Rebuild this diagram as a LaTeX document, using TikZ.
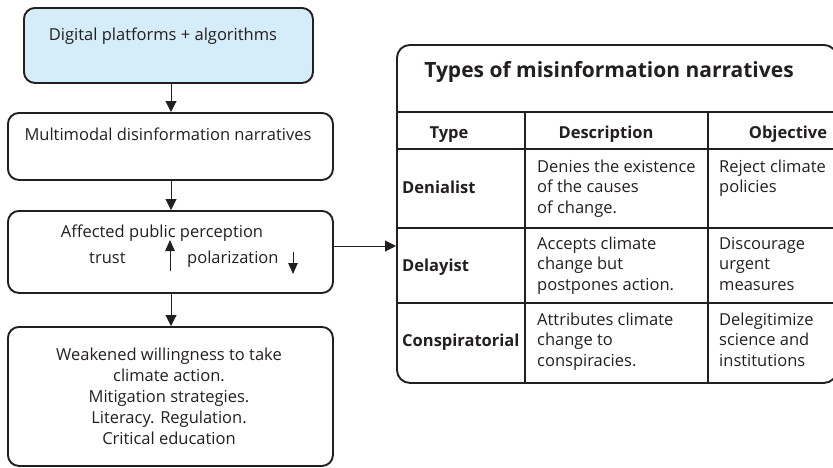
\documentclass[tikz,border=0pt]{standalone}
\usepackage{fontspec}
\setmainfont{Open Sans}
\usetikzlibrary{arrows.meta}
\definecolor{ink}{HTML}{231F20}
\definecolor{skyfill}{HTML}{D5EDF8}
% multi-line cell whose baseline is that of its first line
\newcommand{\stackL}[1]{\begin{tabular}[t]{@{}l@{}}#1\end{tabular}}
\newcommand{\stackC}[1]{\begin{tabular}[t]{@{}c@{}}#1\end{tabular}}
\begin{document}
\begin{tikzpicture}[x=1pt,y=-1pt,
  box/.style={draw=ink,line width=1.9pt,rounded corners=11pt,rectangle,anchor=north west,inner sep=0pt},
  flow/.style={draw=ink,line width=1pt,-{Triangle[width=11pt,length=11pt]}},
  tick/.style={draw=ink,line width=1pt,-{Triangle[width=9.5pt,length=11pt]}},
  grid/.style={draw=ink,line width=1.3pt},
  body/.style={font=\fontsize{16.5}{21}\selectfont,text=ink,inner sep=0pt},
  cell/.style={body,anchor=base west,font=\fontsize{16.5}{20.6}\selectfont},
  head/.style={body,anchor=base,font=\bfseries\fontsize{16.5}{20}\selectfont},
  kind/.style={body,anchor=base west,font=\bfseries\fontsize{16.5}{20}\selectfont}]
\useasboundingbox (0,0) rectangle (833,467);
\clip (0,0) rectangle (833,467);

% flow chart boxes
\node[box,fill=skyfill,minimum width=289pt,minimum height=75pt] (b1) at (23,7) {};
\node[box,minimum width=325pt,minimum height=67pt] (b2) at (7,112) {};
\node[box,minimum width=325pt,minimum height=82pt] (b3) at (7,210) {};
\node[box,minimum width=325pt,minimum height=139pt] (b4) at (7,326) {};

% table frame
\node[box,rounded corners=13pt,minimum width=440pt,minimum height=338pt] (tbl) at (396,44) {};
\coordinate (r1) at (0,112);
\coordinate (r2) at (0,149);
\coordinate (r3) at (0,228);
\coordinate (r4) at (0,303);
\draw[grid] (tbl.west |- r1) -- (tbl.east |- r1);
\draw[grid] (tbl.west |- r2) -- (tbl.east |- r2);
\draw[grid] (tbl.west |- r3) -- (tbl.east |- r3);
\draw[grid] (tbl.west |- r4) -- (tbl.east |- r4);
\coordinate (c1) at (525,0);
\coordinate (c2) at (708,0);
\draw[grid] (c1 |- r1) -- (c1 |- tbl.south);
\draw[grid] (c2 |- r1) -- (c2 |- tbl.south);

% connectors
\coordinate (ax) at (171,0);
\coordinate (ay) at (0,246);
\draw[flow] (ax |- b1.south) -- (ax |- b2.north);
\draw[flow] (ax |- b2.south) -- (ax |- b3.north);
\draw[flow] (ax |- b3.south) -- (ax |- b4.north);
\draw[flow] (b3.east |- ay) -- (tbl.west |- ay);

% flow chart texts
\node[body,anchor=base] (t1) at (163,40) {Digital platforms + algorithms};
\node[body,anchor=base] (t2) at (168,140) {Multimodal disinformation narratives};
\node[body,anchor=base] (t3) at (162,237) {Affected public perception};
\node[body,anchor=base west] (trust) at (89,263) {trust};
\node[body,anchor=base west] (polar) at (187,263) {polarization};
\coordinate (upA) at (170,271);
\coordinate (upB) at (170,240);
\coordinate (dnA) at (293,252);
\coordinate (dnB) at (293,274);
\draw[tick] (upA) -- (upB);
\draw[tick] (dnA) -- (dnB);
\node[body,anchor=base,font=\fontsize{16.5}{21.2}\selectfont] (t4) at (169,360)
  {\stackC{Weakened willingness to take\\climate action.\\Mitigation strategies.\\Literacy. Regulation.\\Critical education}};

% table texts
\node[body,anchor=base,font=\bfseries\fontsize{21}{25}\selectfont] (title) at (609,77) {Types of misinformation narratives};
\node[head] (hType) at (449,138) {Type};
\node[head] (hDesc) at (606,138) {Description};
\node[head] (hObj) at (788,138) {Objective};

\node[kind] (k1) at (402,193) {Denialist};
\node[kind] (k2) at (402,271) {Delayist};
\node[kind] (k3) at (402,346) {Conspiratorial};

\node[cell] (d1) at (537,172) {\stackL{Denies the existence\\of the causes\\of change.}};
\node[cell] (d2) at (537,249) {\stackL{Accepts climate\\change but\\postpones action.}};
\node[cell] (d3) at (537,325) {\stackL{Attributes climate\\change to\\conspiracies.}};

\node[cell] (o1) at (719,172) {\stackL{Reject climate\\policies}};
\node[cell] (o2) at (719,249) {\stackL{Discourage\\urgent\\measures}};
\node[cell] (o3) at (719,325) {\stackL{Delegitimize\\science and\\institutions}};
\end{tikzpicture}
\end{document}
